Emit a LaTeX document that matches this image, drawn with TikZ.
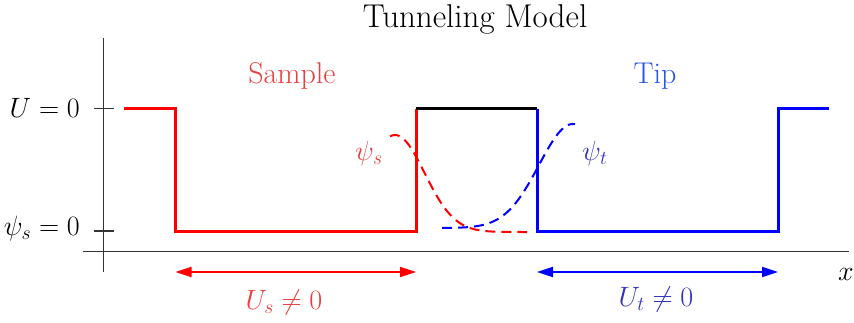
\RequirePackage{fix-cm}
\documentclass[tikz,border=0pt]{standalone}
\usetikzlibrary{arrows.meta}
\definecolor{samplered}{RGB}{232,64,64}
\definecolor{tipblue}{RGB}{45,85,225}
\definecolor{psiblue}{RGB}{50,50,190}

\begin{document}
\begin{tikzpicture}[x=1pt,y=-1pt,
  axis/.style={line width=1.6pt, black!80},
  wall/.style={line width=3pt},
  wave/.style={line width=2pt, dash pattern=on 10pt off 6pt},
  span/.style={line width=2pt, {Triangle[length=16pt,width=10pt]}-{Triangle[length=16pt,width=10pt]}},
  lbl/.style={font=\fontsize{28}{30}\selectfont, inner sep=0pt},
  word/.style={font=\fontsize{30}{32}\selectfont, inner sep=0pt}]
\useasboundingbox (0,0) rectangle (854,322);

% axes
\coordinate (ytop) at (103.5,38);
\coordinate (ybot) at (103.5,272);
\coordinate (xleft) at (83,251.5);
\coordinate (xright) at (849,251.5);
\draw[axis] (ytop) -- (ybot);
\draw[axis] (xleft) -- (xright);
\foreach \y in {108.5,231}
{
    \draw[axis] (94,\y) -- (114,\y);
}

% potential profile
\draw[wall, red] (124,108.5) -- (175.5,108.5) -- (175.5,231) -- (416,231) -- (416,108.5);
\draw[wall, black] (416,108.5) -- (537,108.5);
\draw[wall, blue] (537,108.5) -- (537,231) -- (778,231) -- (778,108.5) -- (829,108.5);

% wave functions
\draw[wave, red] plot[domain=390:527, samples=60, smooth]
    (\x,{232-97*exp(-((\x-395)/42)*((\x-395)/42))});
\draw[wave, blue] plot[domain=442:575, samples=60, smooth]
    (\x,{228-104*exp(-((\x-573)/48)*((\x-573)/48))});

% widths
\coordinate (sleft) at (175.5,272);
\coordinate (sright) at (416,272);
\coordinate (tleft) at (537,272);
\coordinate (tright) at (778,272);
\draw[span, red] (sleft) -- (sright);
\draw[span, blue] (tleft) -- (tright);

% labels
\node[word, font=\fontsize{33}{35}\selectfont, anchor=base] (title) at (475,27.5) {Tunneling Model};
\node[word, anchor=base, text=samplered] (sample) at (292,83) {Sample};
\node[word, anchor=base, text=tipblue] (tip) at (655,83) {Tip};
\node[lbl, anchor=base east] (uzero) at (80,117) {\(U = 0\)};
\node[lbl, anchor=base east] (psizero) at (80,235) {\(\psi_s = 0\)};
\node[lbl, anchor=base west, text=samplered] (psis) at (355,160) {\(\psi_s\)};
\node[lbl, anchor=base west, text=psiblue] (psit) at (582,160) {\(\psi_t\)};
\node[lbl, anchor=base, text=samplered] (us) at (284,309) {\(U_s \neq 0\)};
\node[lbl, anchor=base, text=psiblue] (ut) at (656,306) {\(U_t \neq 0\)};
\node[lbl, anchor=base] (xlab) at (846,280) {\(x\)};
\end{tikzpicture}
\end{document}
